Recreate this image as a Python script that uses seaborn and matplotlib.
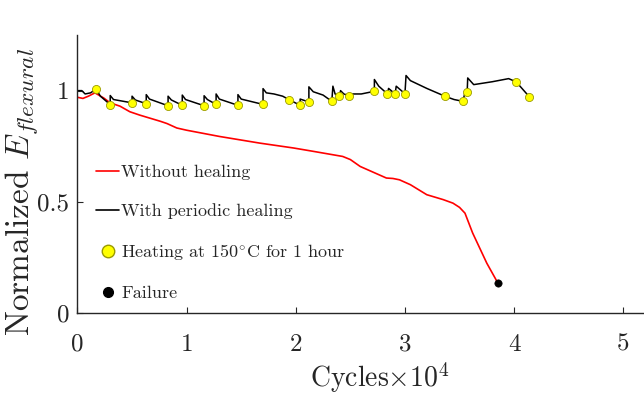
import matplotlib
matplotlib.use('Agg')
import matplotlib.pyplot as plt
from matplotlib.lines import Line2D
import seaborn as sns

# without healing (red)
plain_x = [0.00, 0.05, 0.10, 0.16, 0.24, 0.30, 0.39, 0.48, 0.57, 0.76, 0.82, 0.91,
           1.00, 1.30, 1.67, 1.98, 2.16, 2.43, 2.50, 2.59, 2.83, 2.89, 2.95, 3.05,
           3.20, 3.35, 3.44, 3.50, 3.55, 3.62, 3.75, 3.85]
plain_y = [0.970, 0.965, 0.975, 0.990, 0.967, 0.945, 0.930, 0.905, 0.890, 0.862, 0.852, 0.832,
           0.822, 0.794, 0.764, 0.742, 0.727, 0.704, 0.690, 0.659, 0.607, 0.605, 0.599, 0.577,
           0.532, 0.510, 0.494, 0.475, 0.449, 0.360, 0.224, 0.136]

# with periodic healing (black, sawtooth)
healed_x = [0.00, 0.04, 0.07, 0.12, 0.17, 0.21, 0.30, 0.30, 0.33, 0.50, 0.50, 0.53,
            0.63, 0.63, 0.66, 0.83, 0.83, 0.86, 0.96, 0.96, 0.99, 1.16, 1.16, 1.19,
            1.27, 1.27, 1.30, 1.47, 1.47, 1.50, 1.70, 1.70, 1.73, 1.80, 1.88, 1.94,
            2.04, 2.04, 2.12, 2.12, 2.16, 2.25, 2.33, 2.34, 2.36, 2.40, 2.41, 2.44,
            2.49, 2.50, 2.60, 2.72, 2.72, 2.76, 2.84, 2.85, 2.91, 2.92, 3.00, 3.01,
            3.05, 3.20, 3.37, 3.45, 3.53, 3.55, 3.57, 3.575, 3.63, 3.80, 3.95, 4.02,
            4.14]
healed_y = [1.000, 1.000, 0.985, 0.990, 1.007, 0.975, 0.937, 0.978, 0.960, 0.945, 0.975, 0.958,
            0.941, 0.982, 0.962, 0.932, 0.975, 0.958, 0.934, 0.980, 0.960, 0.932, 0.977, 0.960,
            0.938, 0.985, 0.962, 0.934, 0.982, 0.962, 0.938, 1.009, 0.990, 0.985, 0.975, 0.959,
            0.934, 0.962, 0.949, 1.017, 0.995, 0.980, 0.952, 1.020, 0.985, 0.974, 1.000, 0.985,
            0.977, 0.985, 0.985, 0.997, 1.050, 1.020, 0.985, 1.010, 0.985, 1.020, 0.986, 1.068,
            1.045, 1.010, 0.974, 0.960, 0.952, 0.990, 0.992, 1.057, 1.027, 1.040, 1.054, 1.039,
            0.972]

# heating events (yellow markers)
heat_x = [0.17, 0.30, 0.50, 0.63, 0.83, 0.96, 1.16, 1.27, 1.47, 1.70, 1.94, 2.04, 2.12,
          2.33, 2.40, 2.49, 2.72, 2.84, 2.91, 3.00, 3.37, 3.53, 3.57, 4.02, 4.14]
heat_y = [1.007, 0.937, 0.945, 0.941, 0.932, 0.934, 0.932, 0.938, 0.934, 0.938, 0.959, 0.934, 0.949,
          0.952, 0.974, 0.977, 0.997, 0.985, 0.985, 0.986, 0.974, 0.952, 0.992, 1.039, 0.972]

fail_x = [3.85]
fail_y = [0.136]

x_ticks = [0, 1, 2, 3, 4, 5]
y_ticks = [0, 0.5, 1]
y_tick_labels = ['0', '0.5', '1']

sns.set_theme(style='white')
plt.rcParams['font.family'] = ['cmr10', 'DejaVu Serif']
plt.rcParams['mathtext.fontset'] = 'cm'
plt.rcParams['axes.formatter.use_mathtext'] = True

fig = plt.figure(figsize=(6.44, 3.99), dpi=100)
ax = fig.add_axes([0.1203, 0.2155, 0.8797, 0.6967])

sns.lineplot(x=plain_x, y=plain_y, sort=False, estimator=None, color='#ff0000', lw=1.2, ax=ax)
sns.lineplot(x=healed_x, y=healed_y, sort=False, estimator=None, color='black', lw=1.1, ax=ax)
sns.scatterplot(x=heat_x, y=heat_y, color='#ffff00', edgecolor='#9a9a00', linewidth=0.6,
                s=34, zorder=5, ax=ax)
sns.scatterplot(x=fail_x, y=fail_y, color='black', edgecolor='black', s=28, zorder=5, ax=ax)

ax.set_xlim(0, 5.19)
ax.set_ylim(0, 1.25)
ax.set_xticks(x_ticks)
ax.set_xticklabels([str(t) for t in x_ticks])
ax.set_yticks(y_ticks)
ax.set_yticklabels(y_tick_labels)
ax.tick_params(direction='in', length=4, width=0.8, labelsize=18, colors='#262626',
               left=True, bottom=True)
ax.tick_params(axis='x', pad=15)
ax.tick_params(axis='y', pad=6)
for side in ['top', 'right']:
    ax.spines[side].set_visible(False)
for side in ['left', 'bottom']:
    ax.spines[side].set_color('#262626')
    ax.spines[side].set_linewidth(1.0)

ax.set_xlabel(r'Cycles$\times10^4$', fontsize=20, color='#262626')
ax.xaxis.set_label_coords(0.534, -0.17)
ax.set_ylabel(r'Normalized $E_{flexural}$', fontsize=24, color='#262626')
ax.yaxis.set_label_coords(-0.066, 0.435)

handles = [
    Line2D([], [], color='#ff0000', lw=1.2),
    Line2D([], [], color='black', lw=1.2),
    Line2D([], [], ls='none', marker='o', markerfacecolor='#ffff00',
           markeredgecolor='#9a9a00', markersize=9),
    Line2D([], [], ls='none', marker='o', markerfacecolor='black',
           markeredgecolor='black', markersize=7),
]
labels = ['Without healing', 'With periodic healing',
          r'Heating at 150$^{\circ}$C for 1 hour', 'Failure']
ax.legend(handles, labels, loc='upper left', bbox_to_anchor=(0.02, 0.56), frameon=False,
          fontsize=13, handlelength=1.3, handletextpad=0.1, labelspacing=1.28,
          borderaxespad=0)

fig.savefig('out.png', dpi=100)
